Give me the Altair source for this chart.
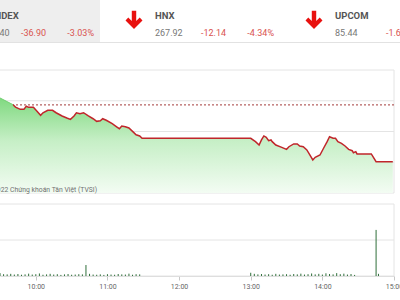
import altair as alt
import pandas as pd

# ---------------- data ----------------
idx_names = ["VN-INDEX", "HNX", "UPCOM"]
idx_close = ["1,180.40", "267.92", "85.44"]
idx_change = ["-36.90", "-12.14", "-1.66"]
idx_pct = ["-3.03%", "-4.34%", "-1.91%"]

price_times = ["09:30", "09:41", "09:43", "09:47", "09:50", "09:52", "09:54", "09:58",
               "10:01", "10:04", "10:06", "10:10", "10:14", "10:17", "10:22", "10:26",
               "10:29", "10:32", "10:34", "10:37", "10:40", "10:44", "10:48", "10:51",
               "10:54", "10:56", "10:59", "11:04", "11:08", "11:10", "11:12", "11:15",
               "11:18", "11:21", "11:24", "11:27", "11:29", "11:30", "13:00", "13:04",
               "13:07", "13:09", "13:11", "13:13", "13:15", "13:17", "13:18", "13:21",
               "13:26", "13:30", "13:32", "13:36", "13:39", "13:41", "13:44", "13:47",
               "13:50", "13:52", "13:54", "13:58", "14:01", "14:04", "14:06", "14:09",
               "14:11", "14:13", "14:16", "14:19", "14:22", "14:25", "14:26", "14:28",
               "14:29", "14:41", "14:45", "14:59"]
price_values = [1221.8, 1217.4, 1215.9, 1214.4, 1214.4, 1216.4, 1215.7, 1215.7,
                1213.1, 1210.5, 1212.2, 1213.8, 1213.8, 1212.2, 1210.1, 1208.8,
                1207.9, 1210.1, 1212.2, 1211.6, 1212.2, 1210.1, 1208.3, 1206.6,
                1207.0, 1208.3, 1207.3, 1205.1, 1202.9, 1201.8, 1203.6, 1203.1,
                1202.3, 1200.1, 1197.9, 1197.1, 1195.6, 1195.6, 1195.6, 1193.4,
                1191.2, 1194.5, 1197.1, 1196.2, 1194.0, 1194.5, 1193.4, 1191.2,
                1189.7, 1188.4, 1190.1, 1191.9, 1191.9, 1190.6, 1190.1, 1188.0,
                1184.1, 1181.5, 1183.2, 1184.7, 1189.1, 1193.4, 1196.6, 1195.6,
                1195.6, 1193.4, 1192.3, 1190.6, 1188.4, 1187.5, 1186.2, 1186.9,
                1185.4, 1185.4, 1180.4, 1180.4]
reference_price = 1217.30
price_floor = 1160
price_grid = [1160, 1180, 1200, 1220, 1240]

vol_times = ["09:30", "09:33", "09:36", "09:39", "09:42", "09:45", "09:48", "09:51",
             "09:54", "09:57", "10:00", "10:03", "10:06", "10:09", "10:12", "10:15",
             "10:18", "10:21", "10:24", "10:27", "10:30", "10:33", "10:36", "10:39",
             "10:42", "10:45", "10:48", "10:51", "10:54", "10:57", "11:00", "11:03",
             "11:06", "11:09", "11:12", "11:15", "11:18", "11:21", "11:24", "11:27",
             "13:00", "13:03", "13:06", "13:09", "13:12", "13:15", "13:18", "13:21",
             "13:24", "13:27", "13:30", "13:33", "13:36", "13:39", "13:42", "13:45",
             "13:48", "13:51", "13:54", "13:57", "14:00", "14:03", "14:06", "14:09",
             "14:12", "14:15", "14:18", "14:21", "14:24", "14:27", "14:45", "14:47"]
vol_values = [1.6, 1.0, 0.9, 1.2, 0.8, 1.1, 0.7, 0.9, 1.3, 0.8, 1.0, 1.4, 0.7, 0.9,
              1.2, 0.8, 1.0, 0.6, 0.9, 1.1, 0.7, 0.8, 1.0, 0.9, 6.1, 1.2, 0.8, 0.7,
              0.9, 0.6, 1.0, 0.8, 0.7, 1.1, 0.9, 0.8, 1.3, 0.7, 1.0, 0.9,
              1.8, 1.2, 0.9, 1.1, 0.8, 1.0, 0.7, 1.2, 0.8, 0.9, 1.0, 0.7, 1.1, 0.9,
              1.3, 0.8, 1.0, 1.4, 0.9, 1.2, 0.8, 1.5, 1.1, 0.9, 1.6, 1.0, 1.3, 0.8,
              1.1, 0.6, 25.6, 1.2]
vol_grid = [0, 20, 40]
hour_ticks = [10, 11, 12, 13, 14, 15]
watermark = "© 2022 Chứng khoán Tân Việt (TVSI)"

DAY = "2022-01-01T"

def stamp(t):
    return DAY + t + ":00"

def dtm(h, m=0):
    return alt.DateTime(year=2022, month=1, date=1, hours=h, minutes=m)

# ---------------- tables ----------------
hdr = pd.DataFrame({"name": idx_names, "close": idx_close,
                    "change": idx_change, "pct": idx_pct})
price_df = pd.DataFrame({"t": [stamp(t) for t in price_times], "p": price_values})
vol_df = pd.DataFrame({"t": [stamp(t) for t in vol_times], "v": vol_values})
pgrid_df = pd.DataFrame({"g": price_grid})
vgrid_df = pd.DataFrame({"g": vol_grid})
ref_df = pd.DataFrame({"r": [reference_price]})
one = pd.DataFrame({"k": [0]})

# ---------------- scales ----------------
def xs():
    return alt.Scale(domain=[dtm(9, 30), dtm(15, 0)], range=[0, 394], nice=False)

def ps():
    return alt.Scale(domain=[1160, 1240], range=[193, 70], nice=False, zero=False)

def vs():
    return alt.Scale(domain=[0, 40], range=[276, 204], nice=False, zero=True)

def hx(rng):
    return alt.X("name:N", scale=alt.Scale(type="point", domain=idx_names,
                                           range=rng, padding=0), axis=None)

GRID = "#e4e4e4"
RED_TXT = "#d9534f"
FONT = "Roboto"

# ---------------- header ----------------
hdr_bg = alt.Chart(one).mark_rect(color="#eeeeee").encode(
    x=alt.value(0), x2=alt.value(100), y=alt.value(0), y2=alt.value(42))
hdr_line = alt.Chart(one).mark_rule(color="#e2e2e2", strokeWidth=1).encode(
    x=alt.value(0), x2=alt.value(400), y=alt.value(42.5))

base_rng = [-25, 335]
t_name = alt.Chart(hdr).mark_text(align="left", font=FONT, fontSize=9.5,
                                  fontWeight="bold", color="#555555").encode(
    x=hx(base_rng), y=alt.value(16), text="name:N")
t_close = alt.Chart(hdr).mark_text(align="left", font=FONT, fontSize=9,
                                   color="#777777").encode(
    x=hx(base_rng), y=alt.value(33), text="close:N")
t_chg = alt.Chart(hdr).mark_text(align="right", font=FONT, fontSize=9,
                                 color=RED_TXT).encode(
    x=hx([46, 406]), y=alt.value(33), text="change:N")
t_pct = alt.Chart(hdr).mark_text(align="right", font=FONT, fontSize=9,
                                 color=RED_TXT).encode(
    x=hx([94, 454]), y=alt.value(33), text="pct:N")
arrow_path = ("M-0.24,-1 L0.24,-1 L0.24,0.12 L0.62,-0.26 L0.92,0.06 L0,0.98 "
              "L-0.92,0.06 L-0.62,-0.26 L-0.24,0.12 Z")
t_arrow = alt.Chart(hdr).mark_point(shape=arrow_path, filled=True, size=340,
                                    color="#e8110f", opacity=1, strokeWidth=0).encode(
    x=hx([-46, 314]), y=alt.value(20))

# ---------------- price panel ----------------
p_grid = alt.Chart(pgrid_df).mark_rule(color=GRID, strokeWidth=1).encode(
    x=alt.value(0), x2=alt.value(394),
    y=alt.Y("g:Q", scale=ps(), axis=None))
p_border = alt.Chart(one).mark_rule(color=GRID, strokeWidth=1).encode(
    x=alt.value(394), y=alt.value(70), y2=alt.value(193))
p_ref = alt.Chart(ref_df).mark_rule(color="#a33a3a", strokeWidth=1,
                                    strokeDash=[2, 2]).encode(
    x=alt.value(0), x2=alt.value(394),
    y=alt.Y("r:Q", scale=ps(), axis=None))
grad = alt.Gradient(gradient="linear",
                    stops=[alt.GradientStop(color="#f3fcf3", offset=0),
                           alt.GradientStop(color="#c6efc6", offset=0.55),
                           alt.GradientStop(color="#80d980", offset=1)],
                    x1=1, x2=1, y1=1, y2=0)
p_area = alt.Chart(price_df).mark_area(color=grad).encode(
    x=alt.X("t:T", scale=xs(), axis=None),
    y=alt.Y("p:Q", scale=ps(), axis=None, stack=None),
    y2=alt.Y2(datum=price_floor))
p_line_up = alt.Chart(price_df.iloc[:2]).mark_line(color="#6fcf6f", strokeWidth=1).encode(
    x=alt.X("t:T", scale=xs(), axis=None),
    y=alt.Y("p:Q", scale=ps(), axis=None))
p_line = alt.Chart(price_df.iloc[1:]).mark_line(color="#c0262b", strokeWidth=1.5).encode(
    x=alt.X("t:T", scale=xs(), axis=None),
    y=alt.Y("p:Q", scale=ps(), axis=None))
p_mark = alt.Chart(one).mark_text(align="right", font=FONT, fontSize=6.8,
                                  color="#707070").encode(
    x=alt.value(97), y=alt.value(190), text=alt.value(watermark))

# ---------------- volume panel ----------------
v_grid = alt.Chart(vgrid_df).mark_rule(color=GRID, strokeWidth=1).encode(
    x=alt.value(0), x2=alt.value(394),
    y=alt.Y("g:Q", scale=vs(), axis=None))
v_border = alt.Chart(one).mark_rule(color=GRID, strokeWidth=1).encode(
    x=alt.value(394), y=alt.value(204), y2=alt.value(276))
v_bars = alt.Chart(vol_df).mark_rule(color="#2f6f3a", strokeWidth=1).encode(
    x=alt.X("t:T", scale=xs(),
            axis=alt.Axis(values=[dtm(h) for h in hour_ticks], format="%H:%M",
                          title=None, grid=False, offset=-24, labelFlush=False,
                          labelOverlap=False, domainColor="#d8d8d8", tickColor="#c8c8c8",
                          tickSize=4, labelPadding=2, labelFont=FONT,
                          labelFontSize=7, labelColor="#666666")),
    y=alt.Y("v:Q", scale=vs(), axis=None),
    y2=alt.value(276))

chart = alt.layer(
    hdr_bg, hdr_line, t_name, t_close, t_chg, t_pct, t_arrow,
    p_grid, p_border, p_ref, p_area, p_line_up, p_line, p_mark,
    v_grid, v_border, v_bars,
).resolve_scale(x="independent", y="independent").properties(
    width=400, height=300, padding=0,
    autosize=alt.AutoSizeParams(type="none"),
    background="white",
).configure_view(strokeWidth=0)

chart.save("out.html", embed_options={"renderer": "svg", "actions": False})
